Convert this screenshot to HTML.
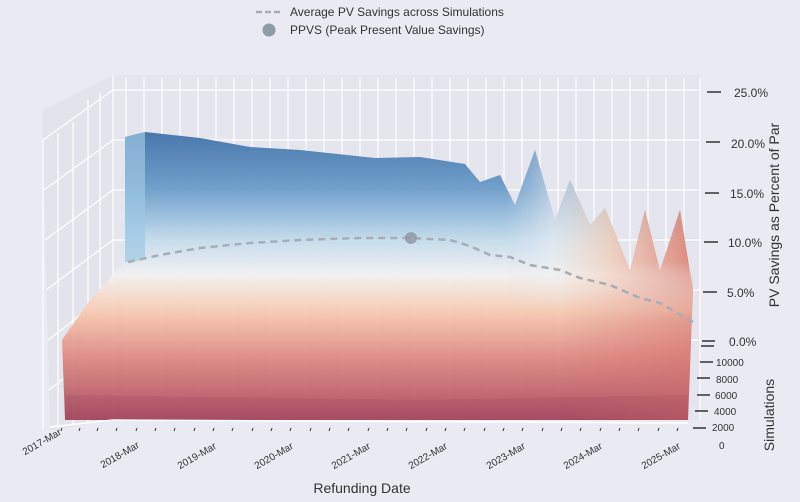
<!DOCTYPE html>
<html><head><meta charset="utf-8"><style>
body{margin:0;background:#eaeaf2;}
svg{display:block;font-family:"Liberation Sans",sans-serif;}
</style></head><body>
<svg width="800" height="502" viewBox="0 0 800 502">
<defs>
<linearGradient id="g" x1="0" y1="130" x2="0" y2="420" gradientUnits="userSpaceOnUse">
<stop offset="0" stop-color="#3f70a8"/>
<stop offset="0.2" stop-color="#6a9cc9"/>
<stop offset="0.38" stop-color="#c3dcec"/>
<stop offset="0.5" stop-color="#f3f1f1"/>
<stop offset="0.62" stop-color="#f6cdb4"/>
<stop offset="0.78" stop-color="#df8c83"/>
<stop offset="1" stop-color="#a8495f"/>
</linearGradient>
<linearGradient id="h" x1="505" y1="0" x2="693" y2="0" gradientUnits="userSpaceOnUse">
<stop offset="0" stop-color="#dfe9f1" stop-opacity="0"/>
<stop offset="0.25" stop-color="#eef0f2" stop-opacity="0.55"/>
<stop offset="0.55" stop-color="#f4cdb6" stop-opacity="0.75"/>
<stop offset="1" stop-color="#dc7e70" stop-opacity="0.9"/>
</linearGradient>
<linearGradient id="r" x1="560" y1="0" x2="693" y2="0" gradientUnits="userSpaceOnUse">
<stop offset="0" stop-color="#d06a68" stop-opacity="0"/>
<stop offset="1" stop-color="#d06a68" stop-opacity="0.45"/>
</linearGradient>
<linearGradient id="v" x1="0" y1="260" x2="0" y2="310" gradientUnits="userSpaceOnUse">
<stop offset="0" stop-color="#fff" stop-opacity="1"/>
<stop offset="1" stop-color="#fff" stop-opacity="0"/>
</linearGradient>
<linearGradient id="v2" x1="0" y1="270" x2="0" y2="320" gradientUnits="userSpaceOnUse">
<stop offset="0" stop-color="#fff" stop-opacity="0"/>
<stop offset="1" stop-color="#fff" stop-opacity="1"/>
</linearGradient>
<mask id="m"><rect x="0" y="0" width="800" height="502" fill="url(#v)"/></mask>
<mask id="m2"><rect x="0" y="0" width="800" height="502" fill="url(#v2)"/></mask>
</defs>
<rect width="800" height="502" fill="#eaeaf2"/>
<polygon points="113,75 700,75 700,420 113,420" fill="#e5e5ed"/>
<polygon points="42,110 113,75 113,420 50,430" fill="#e3e3eb"/>
<g stroke="#fff" stroke-width="1.2">
<path d="M113,90H700M113,140H700M113,190H700M113,240H700M113,290H700M113,340H700"/>
<path d="M126,78V420M144,78V420M162,78V420M180,78V420M198,78V420M216,78V420M234,78V420M252,78V420M270,78V420M288,78V420M306,78V420M324,78V420M342,78V420M360,78V420M378,78V420M396,78V420M414,78V420M432,78V420M450,78V420M468,78V420M486,78V420M504,78V420M522,78V420M540,78V420M558,78V420M576,78V420M594,78V420M612,78V420M630,78V420M648,78V420M666,78V420M684,78V420M700,78V420"/>
<path d="M43,140L113,90M44,190L113,140M45,240L113,190M46,290L113,240M48,340L113,290M49,390L113,340"/>
<path d="M43,140V430M58,133V428M73,122V425M88,100V423M100,93V422M113,75V420"/>
</g>
<polygon fill="url(#g)" points="125,137 145,132 200,138 250,147 300,150 375,158 420,157 465,164 480,182 500,175 515,205 535,150 555,220 570,180 590,225 605,208 630,270 645,210 660,270 680,210 693,290 688,420 65,420 62,340 90,300 125,262" opacity="0.95"/>
<polygon fill="url(#h)" mask="url(#m)" points="500,175 515,205 535,150 555,220 570,180 590,225 605,208 630,270 645,210 660,270 680,210 693,290 693,320 500,320"/>
<polygon fill="url(#r)" mask="url(#m2)" points="560,270 693,270 693,290 688,420 560,420"/>
<polygon fill="#9ec8e4" opacity="0.7" points="125,137 145,132 145,260 125,262"/>
<polygon fill="#7a2f4a" opacity="0.12" points="65,420 688,420 688,395 420,400 65,395"/>
<polyline fill="none" stroke="#a8adb3" stroke-width="2.5" stroke-dasharray="7,5" points="128,262 160,255 200,248 250,243 300,240 360,238 410,238 450,240 470,246 490,255 510,257 530,265 560,270 580,278 610,285 640,298 660,303 693,322"/>
<circle cx="411" cy="238" r="6" fill="#8e9aa6" opacity="0.85"/>
<path d="M50,427L113,420L688,423" stroke="#fff" stroke-width="1.5" fill="none"/>
<g stroke="#333" stroke-width="1">
<path d="M62,428l-1,3M80,428l-1,3M98,428l-1,3M117,428l-1,3M137,428l-1,3M156,428l-1,3M175,428l-1,3M195,428l-1,3M214,428l-1,3M233,428l-1,3M253,428l-1,3M272,428l-1,3M291,428l-1,3M311,428l-1,3M330,428l-1,3M349,428l-1,3M369,428l-1,3M388,428l-1,3M407,428l-1,3M427,428l-1,3M446,428l-1,3M465,428l-1,3M485,428l-1,3M504,428l-1,3M523,428l-1,3M543,428l-1,3M562,428l-1,3M581,428l-1,3M601,428l-1,3M620,428l-1,3M639,428l-1,3M659,428l-1,3M678,428l-1,3"/>
</g>
<g stroke="#333" stroke-width="1.5">
<path d="M707,92h14M706,142h14M705,193h14M704,242h14M703,292h14M702,341h13M701,346h13M700,362h13M697,378h13M697,395h13M695,411h13M693,428h13"/>
</g>
<g font-size="12" fill="#333">
<text x="734" y="97">25.0%</text>
<text x="731" y="148">20.0%</text>
<text x="730" y="198">15.0%</text>
<text x="728" y="247">10.0%</text>
<text x="727" y="297">5.0%</text>
<text x="729" y="346">0.0%</text>
</g>
<g font-size="10" fill="#333">
<text x="716" y="366">10000</text>
<text x="716" y="383">8000</text>
<text x="715" y="399">6000</text>
<text x="714" y="415">4000</text>
<text x="712" y="431">2000</text>
<text x="719" y="449">0</text>
</g>
<g font-size="10" fill="#333" text-anchor="end">
<text transform="translate(62,434) rotate(-30)">2017-Mar</text>
<text transform="translate(140,447) rotate(-30)">2018-Mar</text>
<text transform="translate(217,448) rotate(-30)">2019-Mar</text>
<text transform="translate(294,448) rotate(-30)">2020-Mar</text>
<text transform="translate(371,448) rotate(-30)">2021-Mar</text>
<text transform="translate(448,448) rotate(-30)">2022-Mar</text>
<text transform="translate(526,448) rotate(-30)">2023-Mar</text>
<text transform="translate(603,448) rotate(-30)">2024-Mar</text>
<text transform="translate(681,448) rotate(-30)">2025-Mar</text>
</g>
<text x="362" y="493" font-size="14" fill="#333" text-anchor="middle">Refunding Date</text>
<text transform="translate(779,215) rotate(-90)" font-size="14" fill="#333" text-anchor="middle">PV Savings as Percent of Par</text>
<text transform="translate(774,415) rotate(-90)" font-size="14" fill="#333" text-anchor="middle">Simulations</text>
<line x1="256" y1="12" x2="282" y2="12" stroke="#a8adb3" stroke-width="2.5" stroke-dasharray="6,3"/>
<text x="290" y="16" font-size="12" fill="#333">Average PV Savings across Simulations</text>
<circle cx="269" cy="30" r="6.5" fill="#8e9aa6"/>
<text x="290" y="34" font-size="12" fill="#333">PPVS (Peak Present Value Savings)</text>
</svg>
</body></html>
